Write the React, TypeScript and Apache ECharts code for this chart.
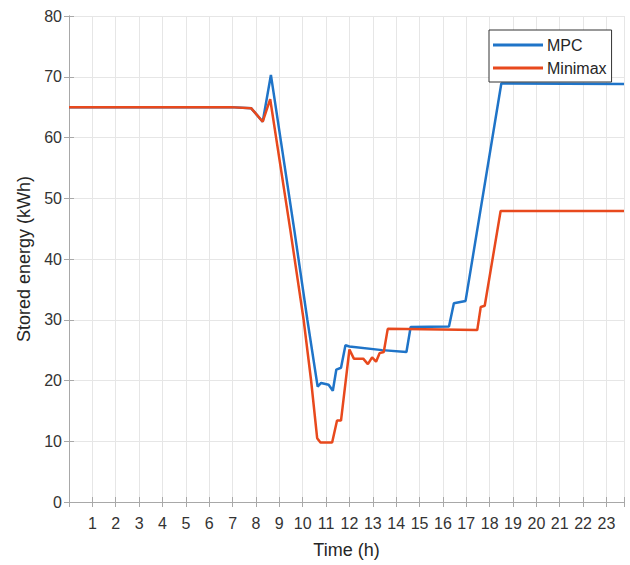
import React, { useEffect, useRef } from "react";
import * as echarts from "echarts";

// Stored battery energy over one day for two controllers.
const mpcHours = [0, 6.9, 7.8, 8.29, 8.64, 9.64, 10.2, 10.64, 10.79, 11.11, 11.29, 11.44, 11.64, 11.83, 12.0, 13.4, 14.44, 14.62, 16.26, 16.47, 16.97, 18.5, 23.75];
const mpcEnergy = [65, 65, 64.8, 62.6, 70.3, 44.8, 30, 19.0, 19.6, 19.3, 18.3, 21.8, 22.1, 25.8, 25.6, 25.0, 24.7, 28.8, 28.9, 32.7, 33.1, 68.9, 68.8];

const minimaxHours = [0, 6.9, 7.8, 8.29, 8.61, 9.47, 10.04, 10.36, 10.62, 10.76, 11.26, 11.47, 11.64, 12.0, 12.19, 12.59, 12.79, 12.97, 13.14, 13.29, 13.47, 13.64, 17.47, 17.62, 17.79, 18.47, 23.75];
const minimaxEnergy = [65, 65, 64.8, 62.6, 66.3, 44.8, 30, 20, 10.5, 9.8, 9.8, 13.4, 13.4, 25.1, 23.6, 23.6, 22.7, 23.8, 23.1, 24.5, 24.7, 28.5, 28.3, 32.1, 32.3, 47.9, 47.9];

const seriesNames = ["MPC", "Minimax"];
const xLabel = "Time (h)";
const yLabel = "Stored energy (kWh)";

const FONT = "'Liberation Sans', Arial, Helvetica, sans-serif";
const AXIS_GRAY = "#a8a8a8";

const pairs = (xs: number[], ys: number[]) => xs.map((x, i) => [x, ys[i]]);

export default function App() {
  const ref = useRef<HTMLDivElement>(null);

  useEffect(() => {
    if (!ref.current) return;
    const chart = echarts.init(ref.current, undefined, { renderer: "svg" });

    const hourLabel = (v: number) =>
      v > 0 && Math.abs(v - Math.round(v)) < 1e-6 ? String(Math.round(v)) : "";

    const xBase = {
      type: "value" as const,
      min: 0,
      max: 23.75,
      interval: 1,
      axisLine: { show: true, lineStyle: { color: AXIS_GRAY, width: 1 } },
      axisTick: { show: true, inside: true, length: 5, lineStyle: { color: AXIS_GRAY } },
    };
    const yBase = {
      type: "value" as const,
      min: 0,
      max: 80,
      interval: 10,
      axisLine: { show: true, lineStyle: { color: AXIS_GRAY, width: 1 } },
      axisTick: { show: true, inside: true, length: 5, lineStyle: { color: AXIS_GRAY } },
    };

    chart.setOption({
      animation: false,
      backgroundColor: "#ffffff",
      textStyle: { fontFamily: FONT },
      grid: { left: 69, right: 6, top: 16, bottom: 63 },
      legend: {
        data: seriesNames,
        orient: "vertical",
        left: 489,
        top: 30,
        icon: "rect",
        itemWidth: 50,
        itemHeight: 3,
        itemGap: 5,
        padding: [6, 5, 5, 4],
        backgroundColor: "#ffffff",
        borderColor: "#333333",
        borderWidth: 1,
        textStyle: { fontFamily: FONT, fontSize: 16, color: "#262626", lineHeight: 18, padding: [0, 0, 0, -1] },
      },
      xAxis: [
        {
          ...xBase,
          position: "bottom",
          name: xLabel,
          nameLocation: "middle",
          nameGap: 39,
          nameTextStyle: { fontFamily: FONT, fontSize: 18, color: "#262626" },
          axisLabel: { formatter: hourLabel, fontFamily: FONT, fontSize: 16, color: "#333333", margin: 13 },
          splitLine: { show: true, lineStyle: { color: "#e6e6e6", width: 1 } },
        },
        {
          ...xBase,
          position: "top",
          axisLabel: { show: false },
          splitLine: { show: false },
        },
      ],
      yAxis: [
        {
          ...yBase,
          position: "left",
          name: yLabel,
          nameLocation: "middle",
          nameGap: 35,
          nameTextStyle: { fontFamily: FONT, fontSize: 18, color: "#262626" },
          axisLabel: { fontFamily: FONT, fontSize: 16, color: "#333333", margin: 7 },
          splitLine: { show: true, lineStyle: { color: "#e6e6e6", width: 1 } },
        },
        {
          ...yBase,
          position: "right",
          axisLabel: { show: false },
          splitLine: { show: false },
        },
      ],
      series: [
        {
          name: seriesNames[0],
          type: "line",
          data: pairs(mpcHours, mpcEnergy),
          showSymbol: false,
          symbol: "none",
          color: "#1f74c8",
          lineStyle: { width: 2.5, color: "#1f74c8" },
          z: 2,
        },
        {
          name: seriesNames[1],
          type: "line",
          data: pairs(minimaxHours, minimaxEnergy),
          showSymbol: false,
          symbol: "none",
          color: "#e8491d",
          lineStyle: { width: 2.5, color: "#e8491d" },
          z: 3,
        },
      ],
    });

    return () => chart.dispose();
  }, []);

  return (
    <div
      ref={ref}
      style={{ position: "fixed", left: 0, top: 0, width: 630, height: 565, background: "#fff" }}
    />
  );
}
